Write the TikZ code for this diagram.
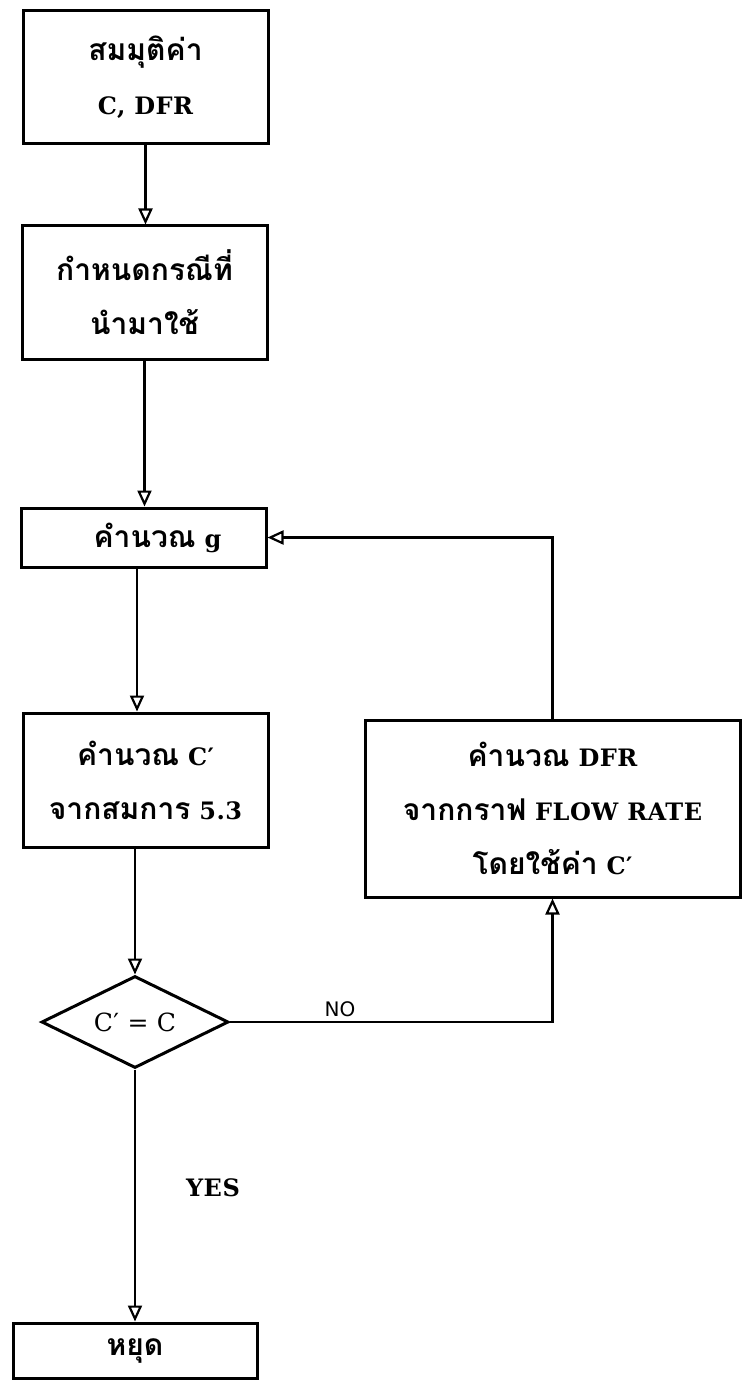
\documentclass[tikz,border=0pt]{standalone}
\usepackage{fontspec}
\setmainfont{DejaVu Serif}[LetterSpace=2]
\newfontfamily\thaif[Script=Thai]{Loma}
\newfontfamily\sansf{DejaVu Sans}
\usetikzlibrary{arrows.meta,shapes.geometric}
\newcommand\thx[1]{{\thaif\bfseries\fontsize{30}{54}\selectfont #1}}
\begin{document}
\begin{tikzpicture}[x=1pt,y=-1pt,
  box/.style={draw, line width=3pt, align=center, inner sep=0pt,
    font=\bfseries\fontsize{24}{54}\selectfont},
  dec/.style={draw, diamond, aspect=2.03, line width=3pt, inner sep=0pt,
    minimum width=187pt, minimum height=92pt, font=\fontsize{25}{28}\selectfont},
  arr/.style={line width=2.2pt, -{Triangle[open, length=16pt, width=14pt, line width=2.2pt]}},
  lbl/.style={inner sep=0pt}]
\useasboundingbox (0,0) rectangle (741,1380);
\fill[white] (0,0) rectangle (741,1380);
\node[box, minimum width=245pt, minimum height=133pt] (b1) at (145.5,77.5)
  {\thx{สมมุติค่า}\\C, DFR};
\node[box, minimum width=245pt, minimum height=133pt] (b2) at (144.5,292.5)
  {\thx{กำหนดกรณีที่}\\\thx{นำมาใช้}};
\node[box, minimum width=245pt, minimum height=59pt] (b3) at (143.5,537.5)
  {\hspace*{28pt}\thx{คำนวณ} g};
\node[box, minimum width=245pt, minimum height=134pt] (b4) at (145.5,780)
  {\thx{คำนวณ} C′\\\thx{จากสมการ} 5.3};
\node[box, minimum width=375pt, minimum height=177pt] (b5) at (552.5,808.5)
  {\thx{คำนวณ} DFR\\\thx{จากกราฟ} FLOW RATE\\\thx{โดยใช้ค่า} C′};
\node[dec] (d) at (135,1022) {C′ = C};
\node[box, minimum width=244pt, minimum height=55pt] (s) at (135,1350.5)
  {\thx{หยุด}};
\coordinate (spine) at (137,0);
\node[lbl, font=\sansf\fontsize{20}{22}\selectfont] (no) at (340,1009) {NO};
\node[lbl, font=\bfseries\fontsize{24}{26}\selectfont] (yes) at (213,1188) {YES};
\draw[arr] (b1.south) -- (b1.south |- b2.north);
\draw[arr] (b2.south) -- (b2.south |- b3.north);
\draw[arr] (b3.south -| spine) -- (b4.north -| spine);
\draw[arr] (b4.south -| d.north) -- (d.north);
\draw[arr] (d.south) -- (d.south |- s.north);
\draw[arr] (d.east) -| (b5.south);
\draw[arr] (b5.north) -- (b5.north |- b3.east) -- (b3.east);
\end{tikzpicture}
\end{document}
